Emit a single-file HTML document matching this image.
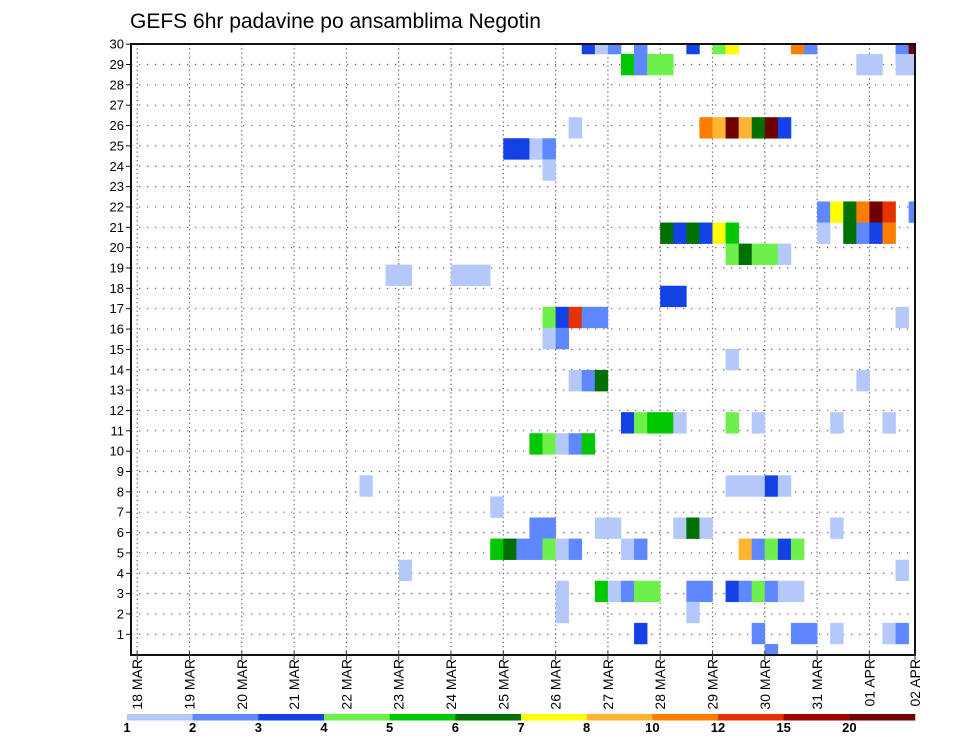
<!DOCTYPE html>
<html><head><meta charset="utf-8"><style>
html,body{margin:0;padding:0;background:#fff;}
svg{display:block;font-family:"Liberation Sans",sans-serif;}
</style></head><body>
<svg id="chart" width="960" height="742" viewBox="0 0 960 742" xmlns="http://www.w3.org/2000/svg">
<text x="130" y="28" font-size="21" fill="#000">GEFS 6hr padavine po ansamblima Negotin</text>
</svg>
<script>
// ---- data ----
const dayLabels = ["18 MAR","19 MAR","20 MAR","21 MAR","22 MAR","23 MAR","24 MAR","25 MAR","26 MAR","27 MAR","28 MAR","29 MAR","30 MAR","31 MAR","01 APR","02 APR"];
const rowLabels = [1,2,3,4,5,6,7,8,9,10,11,12,13,14,15,16,17,18,19,20,21,22,23,24,25,26,27,28,29,30];
const legendLevels = [1,2,3,4,5,6,7,8,10,12,15,20];
const legendColors = ["#b4c8fa","#5f87ff","#1441e6","#6ef04b","#00c800","#007000","#ffff00","#ffb432","#ff7d00","#e63200","#a00000","#6e0000"];
// ensemble member slot (0 = bottom), 6-hour step index from 18 MAR 00z, precipitation (mm)
const cellMember = [
29,29,29,29,29,29,29,29,29,29,29,
28,28,28,28,28,28,28,28,
25,25,25,25,25,25,25,25,
24,24,24,24,
23,
21,21,21,21,21,21,21,
20,20,20,20,20,20,20,20,20,20,20,
19,19,19,19,19,
18,18,18,18,18,
17,17,
16,16,16,16,16,16,
15,15,
14,
13,13,13,13,
11,11,11,11,11,11,11,11,11,
10,10,10,10,10,
8,8,8,8,8,8,
7,
6,6,6,6,6,6,6,6,
5,5,5,5,5,5,5,5,5,5,5,5,5,5,
4,4,
3,3,3,3,3,3,3,3,3,3,3,3,3,3,
2,2,
1,1,1,1,1,1,1,
0];
const cellStep = [
34,35,36,38,42,44,45,50,51,58,59,
37,38,39,40,55,56,58,59,
33,43,44,45,46,47,48,49,
28,29,30,31,
31,
52,53,54,55,56,57,59,
40,41,42,43,44,45,52,54,55,56,57,
45,46,47,48,49,
19,20,24,25,26,
40,41,
31,32,33,34,35,58,
31,32,
45,
33,34,35,55,
37,38,39,40,41,45,47,53,57,
30,31,32,33,34,
17,45,46,47,48,49,
27,
30,31,35,36,41,42,43,53,
27,28,29,30,31,32,33,37,38,46,47,48,49,50,
20,58,
32,35,36,37,38,39,42,43,45,46,47,48,49,50,
32,42,
38,47,50,51,53,57,58,
48];
const cellValue = [
3.5,1.5,2.5,2.5,3.5,4.5,7.5,11,2.5,2.5,22,
5.5,2.5,4.5,4.5,1.5,1.5,1.5,1.5,
1.5,11,9,22,9,6.5,22,3.5,
3.5,3.5,1.5,2.5,
1.5,
2.5,7.5,6.5,11,22,13.5,2.5,
6.5,3.5,6.5,3.5,7.5,5.5,1.5,6.5,2.5,3.5,11,
4.5,6.5,4.5,4.5,1.5,
1.5,1.5,1.5,1.5,1.5,
3.5,3.5,
4.5,3.5,13.5,2.5,2.5,1.5,
1.5,2.5,
1.5,
1.5,2.5,6.5,1.5,
3.5,4.5,5.5,5.5,1.5,4.5,1.5,1.5,1.5,
5.5,4.5,1.5,2.5,5.5,
1.5,1.5,1.5,1.5,3.5,1.5,
1.5,
2.5,2.5,1.5,1.5,1.5,6.5,1.5,1.5,
5.5,6.5,2.5,2.5,4.5,1.5,2.5,1.5,2.5,9,2.5,4.5,3.5,4.5,
1.5,1.5,
1.5,5.5,1.5,2.5,4.5,4.5,2.5,2.5,3.5,2.5,4.5,2.5,1.5,1.5,
1.5,1.5,
3.5,2.5,2.5,2.5,1.5,1.5,2.5,
2.5];

// ---- scales ----
const NS = "http://www.w3.org/2000/svg";
const svg = document.getElementById("chart");
const PL = 131, PR = 915, PT = 44, PB = 655;
const X0 = 137.2, DAYW = 52.3, STEPW = DAYW / 4;
function xDay(d){ return X0 + d * DAYW; }
function xStep(s){ return X0 + s * STEPW; }
const CELL_TOP = 32.9, CELL_H = 21.07, NSLOT = 30;
function yCellTop(m){ return CELL_TOP + (NSLOT - 1 - m) * CELL_H; }
function yLabel(r){ return 634.3 - (r - 1) * 20.35; }
function colorFor(v){
  let k = 0;
  for (let j = 0; j < legendLevels.length; j++) if (v >= legendLevels[j]) k = j;
  return legendColors[k];
}
function mk(tag, attrs, parent){
  const e = document.createElementNS(NS, tag);
  for (const k in attrs) e.setAttribute(k, attrs[k]);
  (parent || svg).appendChild(e);
  return e;
}

// clip
const defs = mk("defs", {});
const cp = mk("clipPath", {id: "plotclip"}, defs);
mk("rect", {x: PL, y: PT, width: PR - PL, height: PB - PT}, cp);

// grid
const grid = mk("g", {stroke: "#666", "stroke-width": "1.2"});


rowLabels.forEach(r => {
  const l = mk("line", {x1: PL, x2: PR, y1: yLabel(r), y2: yLabel(r), "stroke-dasharray": "1.3,6.7"}, grid);
  
  
});
dayLabels.forEach((d, i) => {
  const x = xDay(i);
  if (x > PR) return;
  const l = mk("line", {x1: x, x2: x, y1: PT, y2: PB, "stroke-dasharray": "1.3,3"}, grid);
  
  
});

// cells
const cells = mk("g", {"clip-path": "url(#plotclip)"});


for (let k = 0; k < cellMember.length; k++) {
  const c = mk("rect", {
    x: xStep(cellStep[k]), y: yCellTop(cellMember[k]),
    width: STEPW + 0.3, height: CELL_H + 0.3,
    fill: colorFor(cellValue[k])
  }, cells);
  
  
}

// frame
const frame = mk("rect", {x: PL, y: PT, width: PR - PL, height: PB - PT, fill: "none", stroke: "#111", "stroke-width": "2"});



// y axis
const yax = mk("g", {});


rowLabels.forEach(r => {
  const y = yLabel(r);
  const t = mk("line", {x1: PL - 5, x2: PL, y1: y, y2: y, stroke: "#111", "stroke-width": "1"}, yax);
  
  
  const tx = mk("text", {x: PL - 7, y: y + 4.5, "font-size": "13", "text-anchor": "end", fill: "#000"}, yax);
  tx.textContent = r;
  
  
});

// x axis
const xax = mk("g", {});


dayLabels.forEach((d, i) => {
  const x = Math.min(xDay(i), PR);
  const t = mk("line", {x1: x, x2: x, y1: PB - 4, y2: PB + 5, stroke: "#333", "stroke-width": "1"}, xax);
  
  
  const tx = mk("text", {x: 0, y: 0, "font-size": "14", "text-anchor": "end", fill: "#000",
    transform: "translate(" + (x + 5) + "," + (PB + 4) + ") rotate(-90)"}, xax);
  tx.textContent = d;
  
  
});

// legend
const leg = mk("g", {});


const LX = 127, LW = (915 - 127) / legendColors.length;
legendColors.forEach((c, i) => {
  const r = mk("rect", {x: LX + i * LW, y: 714, width: LW + 0.3, height: 6.5, fill: c}, leg);
  
  
});
legendLevels.forEach((v, i) => {
  const t = mk("text", {x: LX + i * LW, y: 732, "font-size": "13", "font-weight": "bold", "text-anchor": "middle", fill: "#000"}, leg);
  t.textContent = v;
  
  
});
</script>
</body></html>
